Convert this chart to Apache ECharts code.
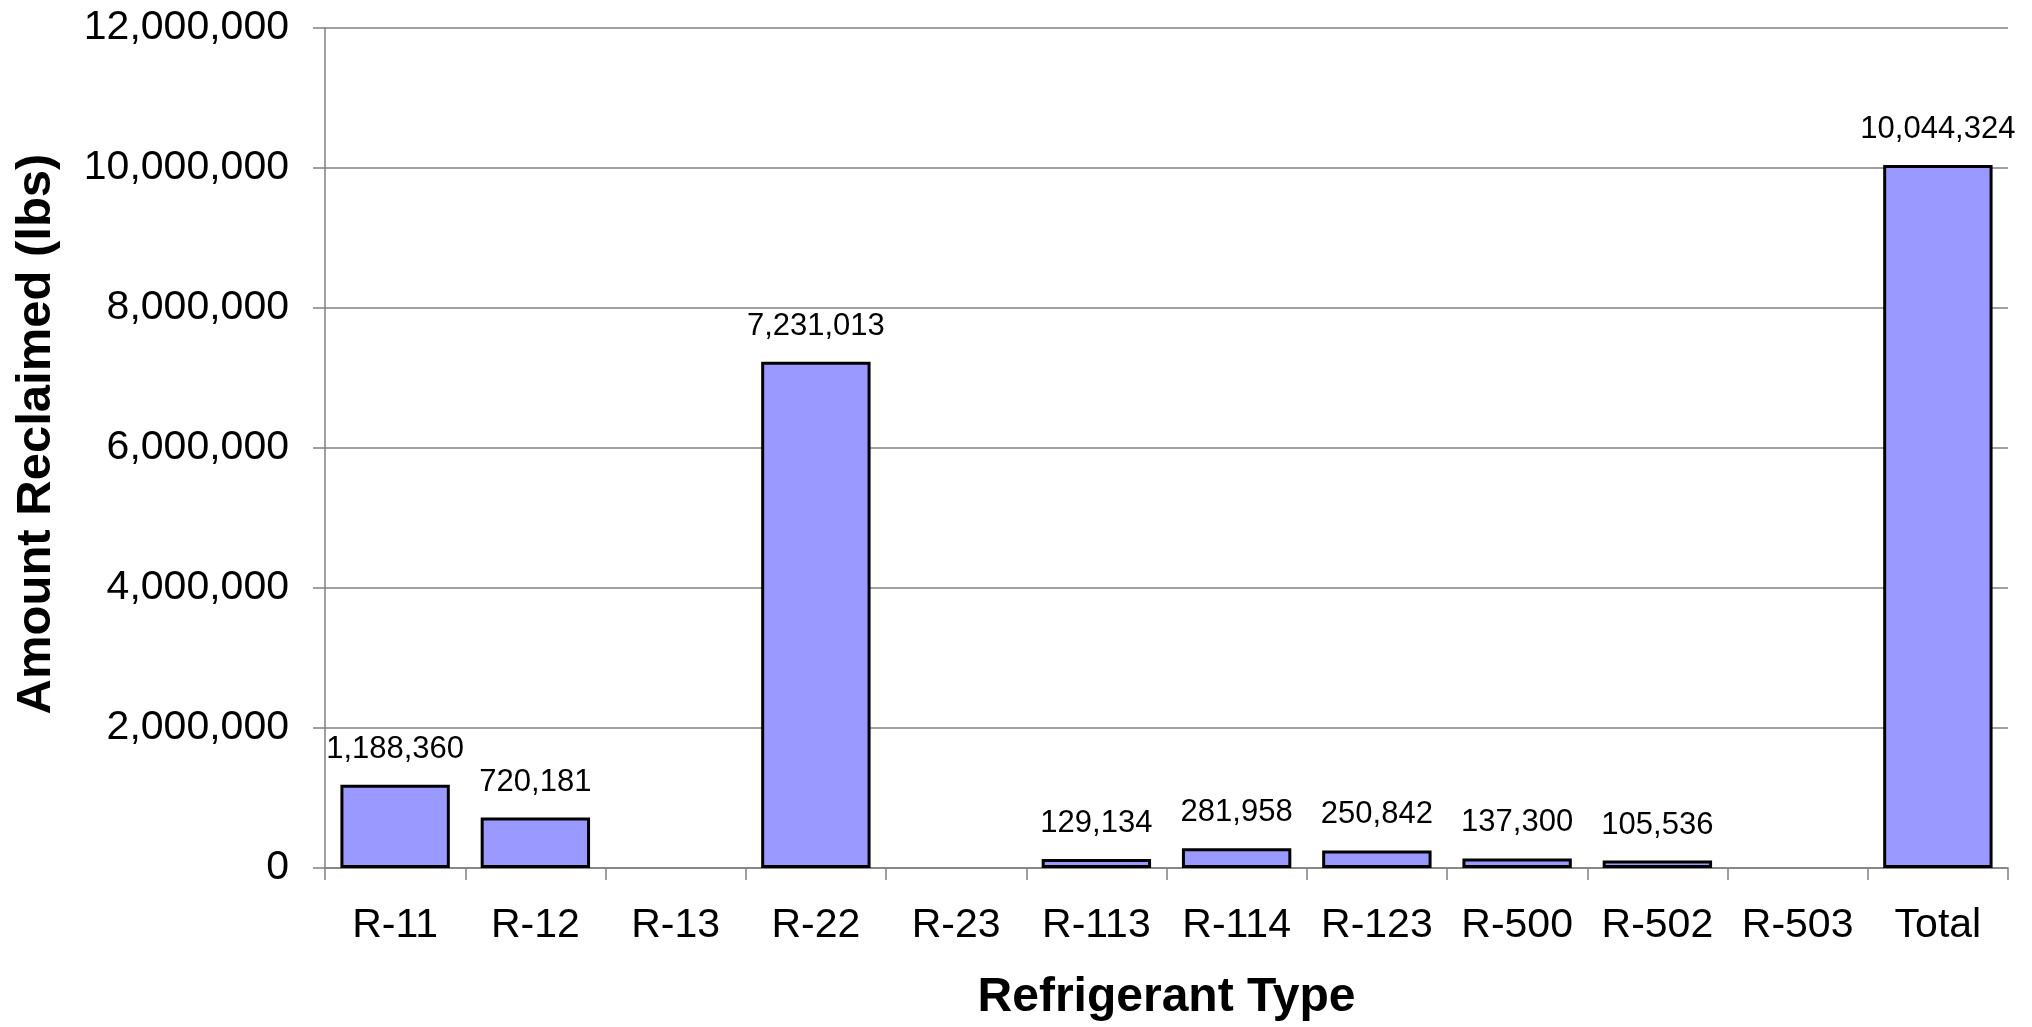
<!DOCTYPE html>
<html>
<head>
<meta charset="utf-8">
<title>Amount Reclaimed by Refrigerant Type</title>
<script src="https://cdn.jsdelivr.net/npm/echarts@6/dist/echarts.min.js"></script>
<style>
  html, body { margin: 0; padding: 0; background: #fff; }
  #chart { width: 2032px; height: 1027px; }
</style>
</head>
<body>
<div id="chart"></div>
<script>
  const categories = ['R-11', 'R-12', 'R-13', 'R-22', 'R-23', 'R-113', 'R-114', 'R-123', 'R-500', 'R-502', 'R-503', 'Total'];
  // null = nothing reported (no bar, no label)
  const amounts = [1188360, 720181, null, 7231013, null, 129134, 281958, 250842, 137300, 105536, null, 10044324];
  const yTicks = { min: 0, max: 12000000, interval: 2000000 };

  const fontFamily = '"Liberation Sans", Arial, sans-serif';
  const chart = echarts.init(document.getElementById('chart'));

  const fmt = v => Number(v).toLocaleString('en-US');

  chart.setOption({
    animation: false,
    textStyle: { fontFamily: fontFamily, color: '#000' },
    grid: { left: 325, right: 24, top: 28, bottom: 159 },
    xAxis: {
      type: 'category',
      data: categories,
      name: 'Refrigerant Type',
      nameLocation: 'middle',
      nameGap: 106,
      nameTextStyle: { fontSize: 48, fontWeight: 'bold', color: '#000', fontFamily: fontFamily },
      axisLine: { lineStyle: { color: '#808080', width: 1.5 } },
      axisTick: { show: true, length: 12, lineStyle: { color: '#808080', width: 1.5 } },
      axisLabel: { fontSize: 41, color: '#000', margin: 37, interval: 0, fontFamily: fontFamily },
      splitLine: { show: false }
    },
    yAxis: {
      type: 'value',
      min: yTicks.min,
      max: yTicks.max,
      interval: yTicks.interval,
      name: 'Amount Reclaimed (lbs)',
      nameLocation: 'middle',
      nameGap: 264,
      nameRotate: 90,
      nameTextStyle: { fontSize: 49, fontWeight: 'bold', color: '#000', fontFamily: fontFamily, padding: [0, 0, 0, 28] },
      axisLine: { show: true, lineStyle: { color: '#808080', width: 1.5 } },
      axisTick: { show: true, length: 12, lineStyle: { color: '#808080', width: 1.5 } },
      axisLabel: { fontSize: 41, color: '#000', margin: 36, formatter: v => fmt(v), fontFamily: fontFamily },
      splitLine: { show: true, lineStyle: { color: '#808080', width: 1.5 } }
    },
    series: [
      {
        type: 'bar',
        data: amounts,
        barCategoryGap: '22%',
        itemStyle: { color: '#9999FF', borderColor: '#000', borderWidth: 3 },
        label: {
          show: true,
          position: 'top',
          distance: 20,
          fontSize: 31,
          color: '#000',
          fontFamily: fontFamily,
          formatter: p => (p.value == null ? '' : fmt(p.value))
        }
      }
    ]
  });

  window.addEventListener('resize', () => chart.resize());
</script>
</body>
</html>
